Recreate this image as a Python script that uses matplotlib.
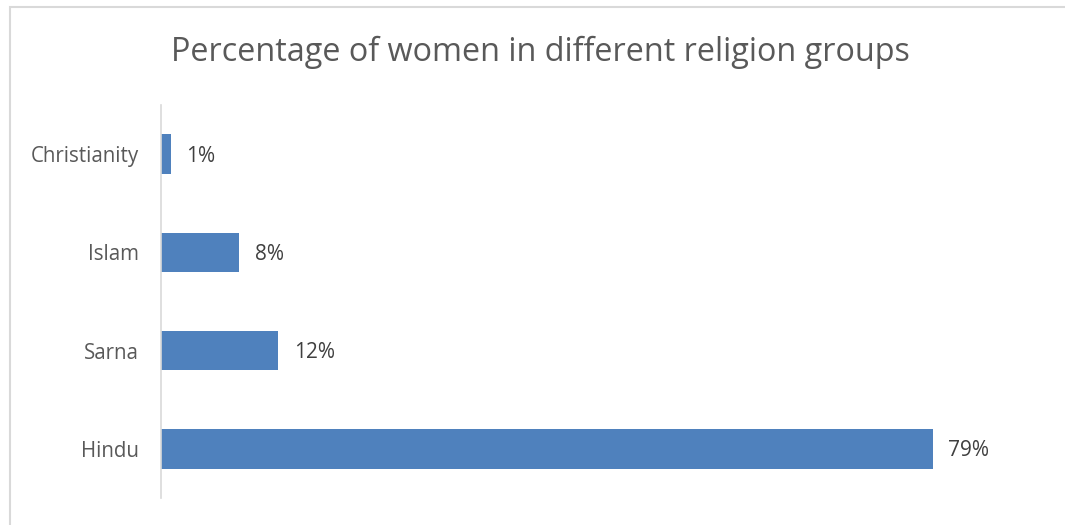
import matplotlib.pyplot as plt
from matplotlib.patches import Rectangle

# data
religions = ["Hindu", "Sarna", "Islam", "Christianity"]
percent = [79, 12, 8, 1]
labels = ["79%", "12%", "8%", "1%"]

plt.rcParams['font.family'] = ['Open Sans', 'DejaVu Sans']

fig = plt.figure(figsize=(10.65, 5.25), dpi=100)
ax = fig.add_axes([161/1065, 1 - 498/525, (1040 - 161)/1065, 393/525])

ax.barh(religions, percent, height=0.4, color='#4F81BD')
for i, (v, t) in enumerate(zip(percent, labels)):
    ax.text(v + 1.6, i - 0.02, t, va='center', ha='left', fontsize=15, color='#404040')

ax.set_xlim(0, 90)
ax.set_ylim(-0.5, 3.5)
ax.set_xticks([])
ax.tick_params(axis='y', length=0, labelsize=14.8, labelcolor='#595959', pad=16)
for s in ['top', 'right', 'bottom']:
    ax.spines[s].set_visible(False)
ax.spines['left'].set_color('#D9D9D9')
ax.spines['left'].set_linewidth(1.2)

fig.text(540/1065, 1 - 52/525, "Percentage of women in different religion groups",
         ha='center', va='center', fontsize=23.3, color='#595959')

# chart frame (partly cut off on right and bottom)
fig.patches.append(Rectangle((10/1065, -0.1), 1.2, 1 - 7/525 + 0.1,
                             transform=fig.transFigure, fill=False,
                             edgecolor='#D9D9D9', linewidth=1.5))

fig.savefig('out.png', dpi=100)
